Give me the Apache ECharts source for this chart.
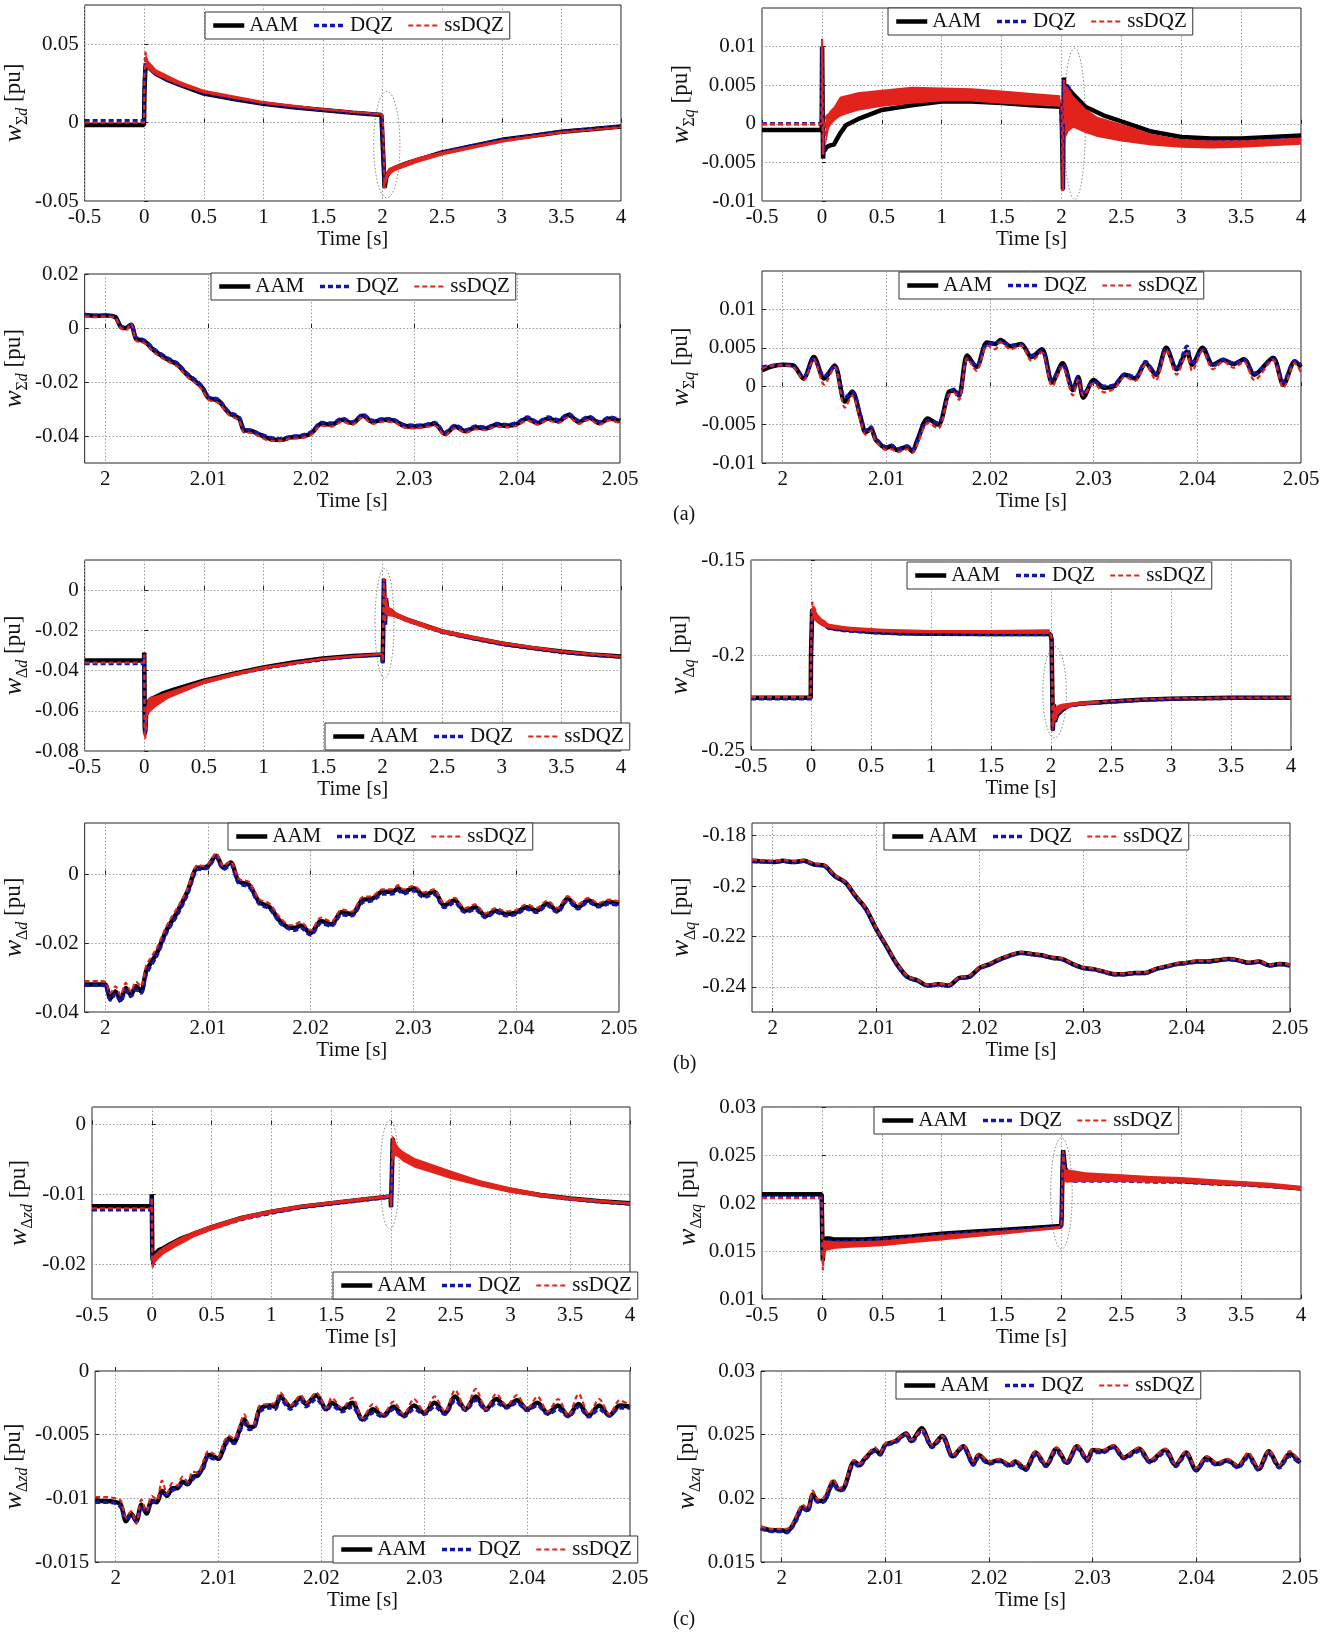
<!DOCTYPE html>
<html>
<head>
<meta charset="utf-8">
<script src="https://cdn.jsdelivr.net/npm/echarts@6/dist/echarts.min.js"></script>
<style>
html,body{margin:0;padding:0;background:#fff;}
#c{width:1334px;height:1634px;}
</style>
</head>
<body>
<div id="c"></div>
<script>
// ---------------- tick labels ----------------
const xTicksLong = [-0.5, 0, 0.5, 1, 1.5, 2, 2.5, 3, 3.5, 4];
const xTicksZoom = [2, 2.01, 2.02, 2.03, 2.04, 2.05];
const yTicksA1 = [-0.05, 0, 0.05];
const yTicksA2 = [-0.01, -0.005, 0, 0.005, 0.01];
const yTicksA3 = [-0.04, -0.02, 0, 0.02];
const yTicksA4 = [-0.01, -0.005, 0, 0.005, 0.01];
const yTicksB1 = [-0.08, -0.06, -0.04, -0.02, 0];
const yTicksB2 = [-0.25, -0.2, -0.15];
const yTicksB3 = [-0.04, -0.02, 0];
const yTicksB4 = [-0.24, -0.22, -0.2, -0.18];
const yTicksC1 = [-0.02, -0.01, 0];
const yTicksC2 = [0.01, 0.015, 0.02, 0.025, 0.03];
const yTicksC3 = [-0.015, -0.01, -0.005, 0];
const yTicksC4 = [0.015, 0.02, 0.025, 0.03];
const seriesNames = ['AAM', 'DQZ', 'ssDQZ'];
const captions = ['(a)', '(b)', '(c)'];

// ---------------- (a) w_Σd, long ----------------
const a1T   = [-0.5,-0.002,0.002,0.01,0.02,0.04,0.07,0.1,0.2,0.3, 0.5,0.75,1.0,1.25,1.5,1.75,1.99,2.001,2.017,2.03, 2.06,2.1,2.2,2.35,2.5,2.75,3.0,3.25,3.5,3.75, 4.0];
const a1AAM = [-0.0015,-0.0015,0.02,0.036,0.037,0.035,0.033,0.031,0.027,0.024, 0.0185,0.015,0.012,0.0098,0.008,0.0063,0.0048,0.004,-0.0415,-0.035, -0.031,-0.029,-0.026,-0.0225,-0.019,-0.015,-0.011,-0.0085,-0.0058,-0.0042, -0.0025];
const a1DQZ = [0.0012,0.0012,0.025,0.041,0.038,0.035,0.033,0.031,0.027,0.0242, 0.0188,0.0152,0.0122,0.0099,0.0081,0.0064,0.0049,0.0042,-0.041,-0.0345, -0.0305,-0.0288,-0.0258,-0.0223,-0.0189,-0.0148,-0.0109,-0.0083,-0.0057,-0.004, -0.0024];
const a1SS  = [0,0,0.03,0.045,0.04,0.037,0.035,0.0325,0.028,0.025, 0.02,0.016,0.013,0.0105,0.0086,0.0068,0.0053,0.0038,-0.042,-0.036, -0.032,-0.03,-0.027,-0.0235,-0.02,-0.0158,-0.012,-0.0093,-0.0065,-0.0047, -0.003];
const a1BandT  = [0.01,0.03,0.1,0.3,0.5,1.0,1.5,1.99,null,2.005,2.02,2.05,2.1,2.3,2.5,3.0,3.5,4.0];
const a1BandLo = [0.036,0.034,0.03,0.0235,0.0185,0.0118,0.0078,0.0048,null,-0.043,-0.04,-0.034,-0.031,-0.0255,-0.021,-0.0128,-0.0068,-0.0035];
const a1BandHi = [0.046,0.04,0.034,0.0265,0.021,0.0138,0.0092,0.0058,null,-0.038,-0.034,-0.029,-0.0275,-0.022,-0.0185,-0.0108,-0.0055,-0.0025];
const a1Ellipse = [2.035, -0.014, 0.11, 0.034];

// ---------------- (a) w_Σq, long ----------------
const a2T   = [-0.5,-0.002,0.002,0.006,0.01,0.015,0.02,0.04,0.07,0.1, 0.15,0.2,0.3,0.5,0.75,1.0,1.25,1.5,1.75,1.99, 2.0,2.006,2.0125,2.016,2.021,2.03,2.04,2.06,2.1,2.2, 2.35,2.5,2.75,3.0,3.25,3.5,3.75,4.0];
const a2AAM = [-0.0008,-0.0008,0.01,0.002,-0.0045,-0.003,-0.0035,-0.003,-0.0028,-0.0027, -0.0013,-0.0002,0.0006,0.0018,0.0024,0.0029,0.0029,0.0027,0.0024,0.0022, 0.0028,-0.002,-0.0085,-0.0008,0.006,0.0008,0.005,0.0045,0.0038,0.0022, 0.0011,0.0003,-0.001,-0.0017,-0.0019,-0.0019,-0.0017,-0.0015];
const a2DQZ = [0,0,0.01,0.002,-0.004,-0.002,-0.001,0,0.001,0.0015, 0.002,0.0025,0.003,0.0032,0.0035,0.0037,0.0036,0.0034,0.0032,0.0029, 0.0028,-0.0015,-0.0086,-0.001,0.0058,0.0006,0.0048,0.0048,0.0025,0.001, 0,-0.0008,-0.0016,-0.0022,-0.0023,-0.0023,-0.0021,-0.002];
const a2SS  = [0,0,0.011,0.003,-0.004,-0.001,0,0.001,0.0015,0.002, 0.0022,0.0026,0.003,0.0033,0.0036,0.0038,0.0037,0.0035,0.0032,0.003, 0.0027,-0.0028,-0.0087,-0.0012,0.0057,0,0.0046,0.0046,0.0022,0.0008, -0.0002,-0.001,-0.0018,-0.0022,-0.0023,-0.0022,-0.0021,-0.002];
const a2BandT  = [0.03,0.06,0.1,0.15,0.2,0.3,0.5,0.75,1.0,1.25,1.5,1.75,1.99,null,2.03,2.06,2.1,2.2,2.3,2.5,2.75,3.0,3.25,3.5,3.75,4.0];
const a2BandLo = [-0.003,-0.0005,0.0003,0.0009,0.0012,0.0017,0.0022,0.0026,0.0029,0.0029,0.0026,0.0024,0.0022,null,-0.002,-0.001,-0.0005,-0.0012,-0.0017,-0.0023,-0.0028,-0.0031,-0.0032,-0.0031,-0.0029,-0.0027];
const a2BandHi = [0.001,0.0015,0.0022,0.0035,0.0037,0.0041,0.0044,0.0048,0.0047,0.0046,0.0043,0.004,0.0037,null,0.005,0.0045,0.0036,0.002,0.0009,0.0,-0.0013,-0.002,-0.0022,-0.0022,-0.002,-0.0018];
const a2Ellipse = [2.11, 0, 0.09, 0.0098];

// ---------------- (a) w_Σd, zoom ----------------
const a3T   = [1.998,1.999,2.0,2.001,2.0015,2.002,2.0025,2.003,2.0035,2.004, 2.0045,2.005,2.006,2.007,2.0075,2.008,2.009,2.0095,2.01,2.011, 2.012,2.013,2.0135,2.014,2.015,2.016,2.017,2.018,2.019,2.02, 2.021,2.022,2.023,2.024,2.025,2.026,2.027,2.028,2.029,2.03, 2.031,2.032,2.033,2.034,2.035,2.036,2.037,2.038,2.039,2.04, 2.041,2.042,2.043,2.044,2.045,2.046,2.047,2.048,2.049,2.05];
const a3AAM = [0.0048,0.0045,0.0046,0.004,0.0005,0,0.0012,-0.004,-0.0045,-0.0055, -0.0075,-0.009,-0.0115,-0.0135,-0.0155,-0.0175,-0.0205,-0.0225,-0.0258,-0.027, -0.0315,-0.0335,-0.038,-0.038,-0.0395,-0.041,-0.0415,-0.0405,-0.0402,-0.039, -0.0355,-0.0358,-0.034,-0.0352,-0.0325,-0.0348,-0.034,-0.0342,-0.0362,-0.0365, -0.0362,-0.0355,-0.0392,-0.0365,-0.0382,-0.0368,-0.0372,-0.0358,-0.0362,-0.0355, -0.0335,-0.0352,-0.0335,-0.0345,-0.0322,-0.0348,-0.0332,-0.0352,-0.0335,-0.0345];
const a3DQZ = [0.0049,0.0046,0.0047,0.0038,0.0004,0.0003,0.0012,-0.0035,-0.004,-0.005, -0.007,-0.0085,-0.011,-0.013,-0.015,-0.017,-0.02,-0.022,-0.0255,-0.0265, -0.031,-0.033,-0.0375,-0.0378,-0.0392,-0.0405,-0.041,-0.0402,-0.0398,-0.0385, -0.035,-0.0352,-0.0335,-0.0348,-0.032,-0.0343,-0.0336,-0.0338,-0.0358,-0.036, -0.0358,-0.035,-0.0386,-0.036,-0.0378,-0.0363,-0.0368,-0.0354,-0.0358,-0.035, -0.033,-0.0348,-0.033,-0.034,-0.0318,-0.0343,-0.0328,-0.0347,-0.033,-0.034];
const a3SS  = [0.0043,0.004,0.0042,0.0035,0,-0.0008,0.0015,-0.0048,-0.0052,-0.0062, -0.0082,-0.0098,-0.0122,-0.0142,-0.0162,-0.0182,-0.0212,-0.0232,-0.0265,-0.0278, -0.0322,-0.0342,-0.0388,-0.0388,-0.0402,-0.0418,-0.0418,-0.041,-0.0408,-0.0396, -0.0362,-0.0365,-0.0347,-0.0358,-0.0332,-0.0355,-0.0347,-0.0349,-0.0368,-0.0372, -0.0368,-0.0362,-0.0398,-0.0372,-0.0388,-0.0375,-0.0378,-0.0365,-0.0368,-0.0362, -0.0342,-0.0358,-0.0342,-0.0352,-0.033,-0.0355,-0.0339,-0.0358,-0.0342,-0.0352];

// ---------------- (a) w_Σq, zoom ----------------
const a4T   = [1.998,1.999,2.0,2.001,2.002,2.003,2.004,2.005,2.006,2.0067, 2.0075,2.008,2.0085,2.009,2.01,2.0105,2.011,2.012,2.0125,2.013, 2.014,2.015,2.016,2.0165,2.017,2.0178,2.0187,2.0197,2.0205,2.021, 2.022,2.023,2.024,2.025,2.026,2.027,2.028,2.0285,2.029,2.03, 2.031,2.032,2.033,2.034,2.035,2.036,2.037,2.038,2.039,2.0395, 2.0405,2.0415,2.0425,2.0435,2.0445,2.0455,2.0473,2.0483,2.0494,2.05];
const a4AAM = [0.0021,0.0026,0.0028,0.0027,0.001,0.0038,0.001,0.0027,-0.002,-0.0007, -0.004,-0.006,-0.0055,-0.007,-0.008,-0.0078,-0.0083,-0.0079,-0.0085,-0.007, -0.0042,-0.005,-0.0008,-0.0006,-0.0012,0.004,0.0025,0.0057,0.0055,0.006, 0.0052,0.0055,0.0038,0.0048,0.0005,0.003,-0.0005,0.0012,-0.0015,0.0008, -0.0002,0,0.0015,0.001,0.003,0.0015,0.005,0.0022,0.0045,0.0028, 0.005,0.0028,0.0034,0.0029,0.0035,0.0015,0.0037,0.0002,0.0032,0.0025];
const a4DQZ = [0.0025,0.0027,0.0028,0.0026,0.0012,0.0035,0.0013,0.0026,-0.0015,-0.0008, -0.0038,-0.0058,-0.0053,-0.0068,-0.0079,-0.0077,-0.0082,-0.0078,-0.0083,-0.0072, -0.0045,-0.0048,-0.001,-0.0004,-0.0012,0.0036,0.0027,0.0055,0.0056,0.0058, 0.0053,0.0054,0.004,0.0046,0.0008,0.0028,-0.0002,0.0012,-0.001,0.0006, 0,0.0002,0.0016,0.0012,0.0032,0.0016,0.0048,0.0024,0.0052,0.0028, 0.0048,0.0026,0.0035,0.003,0.0034,0.0017,0.0035,0.0006,0.0033,0.0028];
const a4SS  = [0.0023,0.0027,0.0027,0.0025,0.0008,0.0035,0.0002,0.0025,-0.0028,-0.0012, -0.0045,-0.0063,-0.0058,-0.0072,-0.0083,-0.0082,-0.0086,-0.0082,-0.0087,-0.0075, -0.0048,-0.0055,-0.0012,-0.0008,-0.0018,0.0036,0.002,0.0053,0.0048,0.0057, 0.0048,0.0053,0.0033,0.0044,0,0.0025,-0.0012,0.0008,-0.0012,0.0004, -0.0008,-0.0003,0.0012,0.0007,0.0028,0.0008,0.0047,0.0015,0.0043,0.002, 0.0046,0.0022,0.0032,0.0024,0.0032,0.0008,0.0034,-0.0002,0.003,0.0018];

// ---------------- (b) w_Δd, long ----------------
const b1T   = [-0.5,-0.002,0,0.004,0.008,0.015,0.03,0.06,0.1,0.15, 0.25,0.5,0.75,1.0,1.25,1.5,1.75,1.998,2.001,2.011, 2.02,2.028,2.04,2.07,2.1,2.2,2.35,2.5,2.75,3.0, 3.25,3.5,3.75,4.0];
const b1AAM = [-0.035,-0.035,-0.031,-0.068,-0.071,-0.062,-0.056,-0.054,-0.053,-0.0515, -0.0495,-0.045,-0.0415,-0.0385,-0.036,-0.034,-0.0327,-0.032,-0.036,0.0055, -0.017,-0.004,-0.011,-0.01,-0.012,-0.0145,-0.0175,-0.0205,-0.0237,-0.0265, -0.0287,-0.0305,-0.032,-0.033];
const b1DQZ = [-0.0365,-0.0365,-0.032,-0.069,-0.072,-0.063,-0.058,-0.056,-0.055,-0.053, -0.0505,-0.0458,-0.042,-0.039,-0.0365,-0.0345,-0.033,-0.0322,-0.0365,0.005, -0.0175,-0.0045,-0.0115,-0.0105,-0.0125,-0.015,-0.018,-0.021,-0.024,-0.027, -0.029,-0.031,-0.0322,-0.0332];
const b1SS  = [-0.036,-0.036,-0.032,-0.072,-0.074,-0.065,-0.06,-0.058,-0.056,-0.054, -0.051,-0.046,-0.042,-0.0388,-0.0362,-0.0342,-0.0328,-0.0318,-0.035,0.006, -0.016,-0.003,-0.01,-0.0095,-0.0115,-0.0145,-0.0178,-0.0208,-0.0238,-0.0266, -0.0288,-0.0306,-0.032,-0.033];
const b1BandT  = [0.01,0.03,0.06,0.1,0.2,0.3,0.5,0.75,1.0,1.5,1.99,null,2.02,2.05,2.1,2.2,2.35,2.5,3.0,3.5,4.0];
const b1BandLo = [-0.072,-0.062,-0.06,-0.058,-0.054,-0.0515,-0.0468,-0.043,-0.0395,-0.0348,-0.0322,null,-0.012,-0.013,-0.0135,-0.016,-0.019,-0.0215,-0.0272,-0.031,-0.0335];
const b1BandHi = [-0.06,-0.054,-0.053,-0.0525,-0.0505,-0.0485,-0.0445,-0.041,-0.0378,-0.0335,-0.0312,null,-0.003,-0.008,-0.0105,-0.0135,-0.0165,-0.0195,-0.0255,-0.0298,-0.0325];
const b1Ellipse = [2.016, -0.0165, 0.08, 0.0273];

// ---------------- (b) w_Δq, long ----------------
const b2T   = [-0.5,-0.002,0,0.01,0.03,0.05,0.1,0.15,0.25,0.5, 0.75,1.0,1.5,1.995,2.005,2.015,2.025,2.033,2.05,2.1, 2.15,2.25,2.5,2.75,3.0,3.5,4.0];
const b2AAM = [-0.2225,-0.2225,-0.2,-0.176,-0.178,-0.181,-0.1835,-0.1855,-0.1865,-0.1878, -0.1885,-0.1888,-0.189,-0.189,-0.192,-0.2395,-0.226,-0.235,-0.2315,-0.2285, -0.2265,-0.2255,-0.2245,-0.2235,-0.223,-0.2225,-0.2225];
const b2DQZ = [-0.223,-0.223,-0.2,-0.177,-0.1785,-0.1815,-0.184,-0.186,-0.187,-0.1882, -0.1888,-0.189,-0.1892,-0.1892,-0.1925,-0.24,-0.2262,-0.2352,-0.2318,-0.2288, -0.2268,-0.2258,-0.2248,-0.2238,-0.2232,-0.2228,-0.2228];
const b2SS  = [-0.2222,-0.2222,-0.198,-0.172,-0.1755,-0.179,-0.1818,-0.1842,-0.1855,-0.1868, -0.1875,-0.1878,-0.188,-0.1882,-0.1915,-0.2385,-0.2255,-0.2345,-0.231,-0.228, -0.2262,-0.2252,-0.2243,-0.2234,-0.2228,-0.2224,-0.2224];
const b2BandT  = [0.01,0.03,0.06,0.1,0.15,0.3,0.6,1.0,1.5,1.99,null,2.01,2.03,2.06,2.1,2.2,2.4];
const b2BandLo = [-0.18,-0.182,-0.1835,-0.185,-0.186,-0.1872,-0.1882,-0.1886,-0.1888,-0.1888,null,-0.241,-0.235,-0.231,-0.229,-0.2268,-0.2255];
const b2BandHi = [-0.172,-0.176,-0.179,-0.1815,-0.1835,-0.185,-0.1862,-0.1868,-0.1868,-0.1865,null,-0.232,-0.228,-0.2262,-0.2255,-0.2248,-0.224];
const b2Ellipse = [2.03, -0.2196, 0.098, 0.024];

// ---------------- (b) w_Δd, zoom ----------------
const b3T   = [1.998,1.9995,2.0,2.0005,2.001,2.0015,2.002,2.0025,2.003,2.0035, 2.004,2.005,2.006,2.007,2.008,2.009,2.0095,2.01,2.0108,2.0115, 2.0122,2.013,2.014,2.015,2.016,2.017,2.018,2.0185,2.019,2.02, 2.021,2.022,2.023,2.024,2.025,2.026,2.027,2.028,2.0285,2.029, 2.03,2.031,2.032,2.033,2.034,2.035,2.036,2.037,2.038,2.039, 2.04,2.041,2.042,2.043,2.044,2.045,2.046,2.047,2.048,2.049, 2.05];
const b3AAM = [-0.032,-0.032,-0.032,-0.036,-0.034,-0.0365,-0.033,-0.035,-0.0325,-0.034, -0.028,-0.023,-0.016,-0.011,-0.005,0.002,0.002,0.0025,0.0055,0.002, 0.0035,-0.002,-0.003,-0.008,-0.0095,-0.0135,-0.0155,-0.0155,-0.0148,-0.017, -0.0135,-0.0145,-0.011,-0.0115,-0.0075,-0.007,-0.005,-0.005,-0.004,-0.005, -0.004,-0.006,-0.005,-0.009,-0.0075,-0.0105,-0.0095,-0.012,-0.0105,-0.0115, -0.011,-0.0095,-0.0105,-0.0085,-0.0105,-0.007,-0.0095,-0.0075,-0.009,-0.008, -0.0085];
const b3DQZ = [-0.0322,-0.0322,-0.0323,-0.0365,-0.0348,-0.037,-0.0338,-0.0355,-0.0335,-0.0345, -0.029,-0.0238,-0.0168,-0.0118,-0.0058,0.0015,0.0016,0.002,0.005,0.0015, 0.0028,-0.0026,-0.0036,-0.0086,-0.01,-0.014,-0.016,-0.0162,-0.0155,-0.0176, -0.0142,-0.015,-0.0117,-0.012,-0.0082,-0.0076,-0.0057,-0.0056,-0.0047,-0.0056, -0.0047,-0.0066,-0.0057,-0.0096,-0.0082,-0.011,-0.0102,-0.0125,-0.011,-0.012, -0.0116,-0.01,-0.011,-0.009,-0.011,-0.0076,-0.01,-0.008,-0.0094,-0.0086, -0.009];
const b3SS  = [-0.031,-0.031,-0.0312,-0.0345,-0.0325,-0.0352,-0.0315,-0.034,-0.0312,-0.0325, -0.0265,-0.0215,-0.0148,-0.0098,-0.0042,0.0028,0.0025,0.003,0.0062,0.0025, 0.0038,-0.0012,-0.0022,-0.0072,-0.0085,-0.0125,-0.0148,-0.0145,-0.0138,-0.0163, -0.0125,-0.0137,-0.0102,-0.0108,-0.0066,-0.0063,-0.0043,-0.0043,-0.0031,-0.0043, -0.0033,-0.0052,-0.0043,-0.0083,-0.0068,-0.0098,-0.0087,-0.0113,-0.0098,-0.0107, -0.0103,-0.0087,-0.0097,-0.0076,-0.0097,-0.0063,-0.0087,-0.0068,-0.0083,-0.0073, -0.0078];

// ---------------- (b) w_Δq, zoom ----------------
const b4T   = [1.998,1.999,2.0,2.001,2.002,2.003,2.004,2.005,2.006,2.007, 2.008,2.009,2.01,2.011,2.012,2.013,2.014,2.015,2.016,2.017, 2.018,2.019,2.02,2.021,2.022,2.023,2.024,2.025,2.026,2.027, 2.028,2.029,2.03,2.031,2.032,2.033,2.034,2.035,2.036,2.037, 2.038,2.039,2.04,2.041,2.042,2.043,2.044,2.045,2.046,2.047, 2.048,2.049,2.05];
const b4AAM = [-0.19,-0.1902,-0.1905,-0.19,-0.1905,-0.19,-0.1915,-0.192,-0.196,-0.1985, -0.204,-0.209,-0.217,-0.224,-0.231,-0.236,-0.2375,-0.2395,-0.239,-0.2395, -0.2365,-0.236,-0.2325,-0.231,-0.229,-0.2275,-0.2265,-0.227,-0.2275,-0.2285, -0.229,-0.231,-0.2325,-0.233,-0.234,-0.235,-0.235,-0.2345,-0.2345,-0.233, -0.232,-0.231,-0.2305,-0.23,-0.23,-0.2295,-0.229,-0.2295,-0.2305,-0.23, -0.2315,-0.231,-0.2315];
const b4DQZ = [-0.1903,-0.1904,-0.1906,-0.1902,-0.1906,-0.1902,-0.1916,-0.1922,-0.1963,-0.1988, -0.2043,-0.2094,-0.2173,-0.2243,-0.2312,-0.2362,-0.2377,-0.2396,-0.2392,-0.2396, -0.2367,-0.2362,-0.2328,-0.2312,-0.2292,-0.2277,-0.2267,-0.2272,-0.2277,-0.2287, -0.2292,-0.2312,-0.2327,-0.2332,-0.2342,-0.2352,-0.2352,-0.2347,-0.2347,-0.2332, -0.2322,-0.2312,-0.2307,-0.2302,-0.2302,-0.2297,-0.2292,-0.2297,-0.2307,-0.2302, -0.2317,-0.2312,-0.2317];
const b4SS  = [-0.1895,-0.1898,-0.19,-0.1896,-0.19,-0.1896,-0.191,-0.1916,-0.1956,-0.1982, -0.2036,-0.2086,-0.2166,-0.2236,-0.2306,-0.2356,-0.2372,-0.2392,-0.2387,-0.2392, -0.2362,-0.2356,-0.2322,-0.2306,-0.2287,-0.2272,-0.2262,-0.2267,-0.2272,-0.2282, -0.2287,-0.2307,-0.2322,-0.2327,-0.2337,-0.2347,-0.2347,-0.2342,-0.2342,-0.2327, -0.2317,-0.2307,-0.2302,-0.2297,-0.2297,-0.2292,-0.2287,-0.2292,-0.2302,-0.2297, -0.2312,-0.2307,-0.2312];

// ---------------- (c) w_Δzd, long ----------------
const c1T   = [-0.5,-0.002,0,0.004,0.008,0.015,0.03,0.06,0.1,0.15, 0.25,0.5,0.75,1.0,1.25,1.5,1.75,1.998,2.001,2.012, 2.016,2.025,2.05,2.1,2.2,2.35,2.5,2.75,3.0,3.25, 3.5,3.75,4.0];
const c1AAM = [-0.0117,-0.0117,-0.01,-0.018,-0.0195,-0.0188,-0.0185,-0.018,-0.0177,-0.0172, -0.0163,-0.0147,-0.0134,-0.0125,-0.0118,-0.0113,-0.0108,-0.0103,-0.0118,-0.0047, -0.002,-0.0032,-0.0038,-0.0046,-0.0055,-0.0063,-0.0072,-0.0084,-0.0094,-0.0101, -0.0106,-0.011,-0.0113];
const c1DQZ = [-0.0122,-0.0122,-0.0105,-0.019,-0.02,-0.019,-0.0187,-0.0182,-0.0179,-0.0174, -0.0165,-0.0149,-0.0136,-0.0127,-0.0119,-0.0114,-0.0109,-0.0104,-0.0119,-0.0048, -0.0022,-0.0033,-0.0039,-0.0047,-0.0056,-0.0064,-0.0073,-0.0085,-0.0095,-0.0102, -0.0107,-0.0111,-0.0114];
const c1SS  = [-0.012,-0.012,-0.0105,-0.0195,-0.0205,-0.0198,-0.019,-0.0183,-0.0178,-0.0173, -0.0163,-0.0146,-0.0133,-0.0124,-0.0117,-0.0112,-0.0107,-0.0102,-0.0117,-0.0042, -0.0016,-0.0026,-0.0032,-0.0042,-0.0053,-0.0061,-0.0071,-0.0083,-0.0094,-0.0101, -0.0106,-0.011,-0.0113];
const c1BandT  = [0.01,0.03,0.06,0.1,0.2,0.35,0.5,0.75,1.0,1.25,1.5,1.75,1.99,null,2.01,2.03,2.06,2.1,2.2,2.35,2.5,2.75,3.0,3.25,3.5,3.75,4.0];
const c1BandLo = [-0.0205,-0.0198,-0.0192,-0.0186,-0.0176,-0.0162,-0.0152,-0.0138,-0.0128,-0.012,-0.0115,-0.011,-0.0105,null,-0.006,-0.0045,-0.0047,-0.0053,-0.0062,-0.007,-0.0078,-0.0089,-0.0098,-0.0104,-0.0109,-0.0112,-0.0115];
const c1BandHi = [-0.019,-0.0185,-0.018,-0.0175,-0.0165,-0.0153,-0.0144,-0.0131,-0.0122,-0.0115,-0.011,-0.0105,-0.0101,null,-0.0015,-0.0022,-0.0032,-0.0038,-0.0048,-0.0057,-0.0066,-0.008,-0.009,-0.0098,-0.0104,-0.0108,-0.0111];
const c1Ellipse = [1.99, -0.0072, 0.08, 0.0078];

// ---------------- (c) w_Δzq, long ----------------
const c2T   = [-0.5,-0.002,0,0.004,0.008,0.015,0.03,0.06,0.1,0.2, 0.35,0.5,0.75,1.0,1.25,1.5,1.75,1.998,2.002,2.008, 2.014,2.03,2.06,2.1,2.2,2.35,2.5,2.75,3.0,3.25, 3.5,3.75,4.0];
const c2AAM = [0.0209,0.0209,0.0209,0.016,0.014,0.0158,0.0163,0.0163,0.0162,0.0162, 0.0162,0.0163,0.0165,0.0168,0.017,0.0172,0.0174,0.0176,0.0186,0.0231, 0.0255,0.0236,0.023,0.0228,0.0227,0.0226,0.0225,0.0224,0.0223,0.0221, 0.022,0.0218,0.0215];
const c2DQZ = [0.0206,0.0206,0.0206,0.0163,0.0145,0.0158,0.0161,0.016,0.016,0.016, 0.0161,0.0162,0.0164,0.0167,0.0169,0.0171,0.0173,0.0175,0.0185,0.023, 0.0254,0.0232,0.0225,0.0223,0.0223,0.0223,0.0223,0.0222,0.0222,0.022, 0.0219,0.0217,0.0215];
const c2SS  = [0.0205,0.0205,0.0205,0.015,0.013,0.0148,0.0152,0.0154,0.0155,0.0156, 0.0157,0.0158,0.0161,0.0164,0.0167,0.017,0.0172,0.0175,0.0185,0.023, 0.0254,0.0233,0.0232,0.023,0.0229,0.0228,0.0227,0.0225,0.0224,0.0222, 0.022,0.0218,0.0215];
const c2BandT  = [0.01,0.03,0.1,0.2,0.5,0.75,1.0,1.25,1.5,1.75,1.99,null,2.02,2.05,2.1,2.2,2.35,2.5,2.75,3.0,3.25,3.5,3.75,4.0];
const c2BandLo = [0.0135,0.015,0.0152,0.0153,0.0155,0.0158,0.0161,0.0164,0.0167,0.017,0.0173,null,0.0222,0.0221,0.0222,0.0222,0.0222,0.0222,0.0221,0.0221,0.0219,0.0218,0.0216,0.0213];
const c2BandHi = [0.0162,0.0161,0.016,0.016,0.0161,0.0164,0.0167,0.0169,0.0171,0.0173,0.0176,null,0.0236,0.0235,0.0234,0.0232,0.0231,0.023,0.0228,0.0227,0.0225,0.0223,0.0221,0.0218];
const c2Ellipse = [2.0, 0.021, 0.09, 0.0058];

// ---------------- (c) w_Δzd, zoom ----------------
const c3T   = [1.998,1.999,2.0,2.0005,2.001,2.0015,2.002,2.0025,2.003,2.0035, 2.004,2.0045,2.005,2.0055,2.006,2.0065,2.007,2.0075,2.008,2.0085, 2.009,2.0095,2.01,2.0105,2.011,2.0115,2.012,2.0125,2.013,2.0135, 2.014,2.015,2.0155,2.016,2.017,2.018,2.0185,2.0195,2.0205,2.021, 2.022,2.023,2.024,2.025,2.026,2.027,2.028,2.029,2.03,2.031, 2.032,2.033,2.034,2.035,2.036,2.037,2.038,2.039,2.04,2.041, 2.042,2.043,2.044,2.045,2.046,2.047,2.048,2.049,2.05];
const c3AAM = [-0.0102,-0.0102,-0.0103,-0.0105,-0.0118,-0.0112,-0.0118,-0.0105,-0.0112,-0.0102, -0.0103,-0.0094,-0.0098,-0.0092,-0.0092,-0.0087,-0.0089,-0.0083,-0.0082,-0.0075, -0.0066,-0.0067,-0.0069,-0.006,-0.0053,-0.0056,-0.0047,-0.0038,-0.0044,-0.0043, -0.003,-0.0027,-0.0028,-0.002,-0.0028,-0.0021,-0.0026,-0.0019,-0.003,-0.0025, -0.003,-0.0025,-0.0038,-0.003,-0.0035,-0.0028,-0.0035,-0.0027,-0.0033,-0.0025, -0.0033,-0.002,-0.003,-0.002,-0.003,-0.0022,-0.0028,-0.0023,-0.003,-0.0025, -0.0033,-0.0027,-0.0035,-0.0026,-0.0035,-0.0027,-0.0035,-0.0027,-0.0028];
const c3DQZ = [-0.0103,-0.0103,-0.0104,-0.0107,-0.0116,-0.0114,-0.0117,-0.0108,-0.011,-0.0104, -0.0101,-0.0097,-0.0097,-0.0094,-0.0091,-0.0089,-0.0088,-0.0085,-0.008,-0.0077, -0.0067,-0.0069,-0.0068,-0.0062,-0.0055,-0.0057,-0.0049,-0.0041,-0.0046,-0.0044, -0.0032,-0.0029,-0.003,-0.0022,-0.003,-0.0023,-0.0028,-0.0022,-0.0031,-0.0027, -0.0032,-0.0028,-0.0039,-0.0033,-0.0036,-0.003,-0.0036,-0.003,-0.0034,-0.0028, -0.0034,-0.0023,-0.0031,-0.0023,-0.0031,-0.0025,-0.0029,-0.0025,-0.0031,-0.0027, -0.0034,-0.003,-0.0036,-0.0028,-0.0036,-0.003,-0.0035,-0.0029,-0.0029];
const c3SS  = [-0.0099,-0.0099,-0.01,-0.0102,-0.0115,-0.011,-0.012,-0.0101,-0.011,-0.0098, -0.0101,-0.0086,-0.0096,-0.0088,-0.009,-0.0083,-0.0087,-0.0079,-0.008,-0.0071, -0.0063,-0.0065,-0.0067,-0.0056,-0.0051,-0.0053,-0.0044,-0.0034,-0.0042,-0.0041, -0.0027,-0.0026,-0.0025,-0.0017,-0.0027,-0.0019,-0.0025,-0.0017,-0.0029,-0.0021, -0.0029,-0.0021,-0.0037,-0.0026,-0.0034,-0.0024,-0.0034,-0.0022,-0.0032,-0.002, -0.0032,-0.0015,-0.003,-0.0014,-0.003,-0.0018,-0.0027,-0.0019,-0.003,-0.002, -0.0032,-0.0022,-0.0035,-0.0018,-0.0034,-0.0022,-0.0034,-0.0023,-0.0027];

// ---------------- (c) w_Δzq, zoom ----------------
const c4T   = [1.998,1.999,2.0,2.0005,2.001,2.0015,2.002,2.0025,2.003,2.0035, 2.004,2.005,2.0055,2.006,2.007,2.0075,2.008,2.009,2.0095,2.01, 2.011,2.012,2.0125,2.0135,2.0145,2.0155,2.0165,2.0175,2.0185,2.019, 2.02,2.021,2.022,2.0225,2.0235,2.0245,2.0255,2.0265,2.0275,2.0285, 2.0295,2.03,2.031,2.032,2.033,2.0345,2.0355,2.037,2.038,2.039, 2.04,2.041,2.042,2.043,2.044,2.045,2.046,2.047,2.048,2.049, 2.05];
const c4AAM = [0.0177,0.0175,0.0175,0.0174,0.0178,0.0186,0.0193,0.0191,0.0203,0.0198, 0.0198,0.0213,0.0207,0.0208,0.0229,0.0226,0.0231,0.0238,0.0235,0.0242, 0.0245,0.0251,0.0245,0.0255,0.0241,0.0249,0.0233,0.0241,0.0227,0.0234, 0.0228,0.023,0.0226,0.0229,0.0223,0.0236,0.0226,0.0239,0.0228,0.0241, 0.023,0.0238,0.0237,0.0241,0.0232,0.0239,0.0229,0.0238,0.0226,0.0236, 0.0222,0.0232,0.0227,0.023,0.0225,0.0234,0.0223,0.0237,0.0225,0.0235, 0.0228];
const c4DQZ = [0.0176,0.0174,0.0174,0.0173,0.0177,0.0184,0.0192,0.019,0.0201,0.0197, 0.0197,0.0211,0.0206,0.0207,0.0227,0.0225,0.023,0.0237,0.0234,0.0241, 0.0244,0.025,0.0244,0.0253,0.024,0.0247,0.0232,0.024,0.0226,0.0232, 0.0227,0.0229,0.0225,0.0227,0.0222,0.0234,0.0225,0.0237,0.0227,0.0239, 0.0229,0.0236,0.0236,0.024,0.0231,0.0237,0.0228,0.0236,0.0225,0.0234, 0.0222,0.023,0.0226,0.0229,0.0224,0.0232,0.0222,0.0235,0.0224,0.0233, 0.0227];
const c4SS  = [0.0178,0.0176,0.0176,0.0176,0.018,0.0188,0.0195,0.0192,0.0206,0.0199, 0.02,0.0215,0.0208,0.021,0.023,0.0227,0.0232,0.024,0.0236,0.0243, 0.0246,0.0251,0.0246,0.0254,0.0242,0.0249,0.0234,0.0242,0.0229,0.0235, 0.0229,0.0231,0.0227,0.023,0.0225,0.0237,0.0227,0.024,0.0229,0.0242, 0.0231,0.0239,0.0238,0.0242,0.0233,0.024,0.023,0.0239,0.0227,0.0237, 0.0224,0.0233,0.0228,0.0231,0.0226,0.0236,0.0224,0.0238,0.0226,0.0237, 0.0229];

// ---------------- layout / styling ----------------
const FONT = "'Liberation Serif','DejaVu Serif','Times New Roman',serif";
const COL = { aam: '#000000', dqz: '#1414b4', ss: '#e2231c', band: '#e2231c' };

const panels = [
  {T:a1T,A:a1AAM,D:a1DQZ,S:a1SS,band:[a1BandT,a1BandLo,a1BandHi],ell:a1Ellipse,x:[-0.5,4],xt:xTicksLong,y:[-0.05,0.075],yt:yTicksA1,sym:'Σ',sub:'d',box:[82,5,539,196],leg:[205,12],ng:46,smooth:false},
  {T:a2T,A:a2AAM,D:a2DQZ,S:a2SS,band:[a2BandT,a2BandLo,a2BandHi],ell:a2Ellipse,x:[-0.5,4],xt:xTicksLong,y:[-0.01,0.015],yt:yTicksA2,sym:'Σ',sub:'q',box:[762,8,539,193],leg:[888,8],ng:56,smooth:false},
  {T:a3T,A:a3AAM,D:a3DQZ,S:a3SS,x:[1.998,2.05],xt:xTicksZoom,y:[-0.05,0.02],yt:yTicksA3,sym:'Σ',sub:'d',box:[82,274,538,189],leg:[211,273],ng:53,smooth:0.3},
  {T:a4T,A:a4AAM,D:a4DQZ,S:a4SS,x:[1.998,2.05],xt:xTicksZoom,y:[-0.01,0.015],yt:yTicksA4,sym:'Σ',sub:'q',box:[762,271,539,192],leg:[899,272],ng:61,smooth:0.3},
  {T:b1T,A:b1AAM,D:b1DQZ,S:b1SS,band:[b1BandT,b1BandLo,b1BandHi],ell:b1Ellipse,x:[-0.5,4],xt:xTicksLong,y:[-0.08,0.015],yt:yTicksB1,sym:'Δ',sub:'d',box:[82,560,539,191],leg:[325,723],ng:46,smooth:false},
  {T:b2T,A:b2AAM,D:b2DQZ,S:b2SS,band:[b2BandT,b2BandLo,b2BandHi],ell:b2Ellipse,x:[-0.5,4],xt:xTicksLong,y:[-0.25,-0.15],yt:yTicksB2,sym:'Δ',sub:'q',box:[751,560,540,190],leg:[907,562],ng:48,smooth:false},
  {T:b3T,A:b3AAM,D:b3DQZ,S:b3SS,x:[1.998,2.05],xt:xTicksZoom,y:[-0.04,0.015],yt:yTicksB3,sym:'Δ',sub:'d',box:[82,823,537,189],leg:[228,823],ng:46,smooth:0.3},
  {T:b4T,A:b4AAM,D:b4DQZ,S:b4SS,x:[1.998,2.05],xt:xTicksZoom,y:[-0.25,-0.175],yt:yTicksB4,sym:'Δ',sub:'q',box:[752,823,538,189],leg:[884,823],ng:51,smooth:0.3},
  {T:c1T,A:c1AAM,D:c1DQZ,S:c1SS,band:[c1BandT,c1BandLo,c1BandHi],ell:c1Ellipse,x:[-0.5,4],xt:xTicksLong,y:[-0.025,0.0025],yt:yTicksC1,sym:'Δ',sub:'zd',box:[92,1107,538,192],leg:[333,1272],ng:56,smooth:false},
  {T:c2T,A:c2AAM,D:c2DQZ,S:c2SS,band:[c2BandT,c2BandLo,c2BandHi],ell:c2Ellipse,x:[-0.5,4],xt:xTicksLong,y:[0.01,0.03],yt:yTicksC2,sym:'Δ',sub:'zq',box:[762,1107,539,192],leg:[874,1107],ng:46,smooth:false},
  {T:c3T,A:c3AAM,D:c3DQZ,S:c3SS,x:[1.998,2.05],xt:xTicksZoom,y:[-0.015,0],yt:yTicksC3,sym:'Δ',sub:'zd',box:[92,1371,538,191],leg:[333,1536],ng:58,smooth:0.3},
  {T:c4T,A:c4AAM,D:c4DQZ,S:c4SS,x:[1.998,2.05],xt:xTicksZoom,y:[0.015,0.03],yt:yTicksC4,sym:'Δ',sub:'zq',box:[761,1371,539,191],leg:[896,1372],ng:45,smooth:0.3}
];
const captionPos = [[685,516],[685,1065],[685,1621]];

function pairs(t, v) { return t.map((x, i) => [x, v[i]]); }
const fmt = v => String(+(+v).toFixed(4));

const option = { animation: false, backgroundColor: '#fff', grid: [], xAxis: [], yAxis: [], series: [], legend: [], graphic: [] };

panels.forEach((p, i) => {
  option.grid.push({ left: p.box[0], top: p.box[1], width: p.box[2], height: p.box[3], show: true,
    borderColor: '#222', borderWidth: 1, backgroundColor: 'rgba(0,0,0,0)' });
  option.xAxis.push({
    type: 'value', gridIndex: i, min: p.x[0], max: p.x[1],
    name: 'Time [s]', nameLocation: 'middle', nameGap: 26,
    nameTextStyle: { fontFamily: FONT, fontSize: 21, color: '#111' },
    axisLine: { show: false },
    axisTick: { show: true, inside: true, length: 4, customValues: p.xt, lineStyle: { color: '#222' } },
    axisLabel: { customValues: p.xt, formatter: fmt, fontFamily: FONT, fontSize: 21, color: '#111', margin: 6 },
    splitLine: { show: true, lineStyle: { color: '#9a9a9a', type: [1.5, 2], width: 1 } }
  });
  option.yAxis.push({
    type: 'value', gridIndex: i, min: p.y[0], max: p.y[1],
    name: '{w|w}{g|' + p.sym + '}{s|' + p.sub + '}{u| [pu]}',
    nameLocation: 'middle', nameGap: p.ng, nameRotate: 90,
    nameTextStyle: { rich: {
      w: { fontFamily: FONT, fontStyle: 'italic', fontSize: 26, lineHeight: 34, verticalAlign: 'middle', color: '#111' },
      g: { fontFamily: FONT, fontSize: 16, lineHeight: 34, verticalAlign: 'bottom', color: '#111' },
      s: { fontFamily: FONT, fontStyle: 'italic', fontSize: 16, lineHeight: 34, verticalAlign: 'bottom', color: '#111' },
      u: { fontFamily: FONT, fontSize: 23, lineHeight: 34, verticalAlign: 'middle', color: '#111' }
    } },
    axisLine: { show: false },
    axisTick: { show: true, inside: true, length: 4, customValues: p.yt, lineStyle: { color: '#222' } },
    axisLabel: { customValues: p.yt, formatter: fmt, fontFamily: FONT, fontSize: 21, color: '#111', margin: 6 },
    splitLine: { show: true, lineStyle: { color: '#9a9a9a', type: [1.5, 2], width: 1 } }
  });

  if (p.ell) {
    const e = p.ell;
    option.series.push({
      type: 'custom', name: 'ellipse' + i, xAxisIndex: i, yAxisIndex: i, silent: true, z: 1,
      data: [[e[0], e[1]]],
      renderItem: (params, api) => {
        const c = api.coord([e[0], e[1]]);
        const s = api.size([e[2], e[3]]);
        return { type: 'ellipse', shape: { cx: c[0], cy: c[1], rx: s[0], ry: s[1] },
          style: { fill: 'none', stroke: '#8a8a8a', lineWidth: 1, lineDash: [1.5, 2] } };
      }
    });
  }
  option.series.push({ type: 'line', name: 'AAM', xAxisIndex: i, yAxisIndex: i, data: pairs(p.T, p.A),
    symbol: 'none', smooth: p.smooth, clip: true, z: 2, lineStyle: { color: COL.aam, width: 4.5 }, itemStyle: { color: COL.aam } });
  option.series.push({ type: 'line', name: 'DQZ', xAxisIndex: i, yAxisIndex: i, data: pairs(p.T, p.D),
    symbol: 'none', smooth: p.smooth, clip: true, z: 3, lineStyle: { color: COL.dqz, width: 3.5, type: [5, 3] }, itemStyle: { color: COL.dqz } });
  if (p.band) {
    const BT = p.band[0], BL = p.band[1], BH = p.band[2];
    option.series.push({
      type: 'custom', name: 'band' + i, xAxisIndex: i, yAxisIndex: i, silent: true, z: 4, clip: true,
      data: [[BT[0], BL[0]]],
      renderItem: (params, api) => {
        const children = []; let seg = [];
        const flush = () => {
          if (seg.length > 1) {
            const up = seg.map(k => api.coord([BT[k], BH[k]]));
            const lo = seg.map(k => api.coord([BT[k], BL[k]])).reverse();
            children.push({ type: 'polygon', shape: { points: up.concat(lo) }, style: { fill: COL.band } });
          }
          seg = [];
        };
        BT.forEach((t, k) => { if (t === null) flush(); else seg.push(k); });
        flush();
        return { type: 'group', children: children };
      }
    });
  }
  option.series.push({ type: 'line', name: 'ssDQZ', xAxisIndex: i, yAxisIndex: i, data: pairs(p.T, p.S),
    symbol: 'none', smooth: p.smooth, clip: true, z: 5, lineStyle: { color: COL.ss, width: 2.2, type: [5, 3] }, itemStyle: { color: COL.ss } });
  // AAM drawn again on top where it rides above the red band (a2 after the step)
  if (i === 1) {
    option.series.push({ type: 'line', name: 'AAM', xAxisIndex: i, yAxisIndex: i, data: pairs(p.T.slice(29), p.A.slice(29)),
      symbol: 'none', clip: true, z: 6, lineStyle: { color: COL.aam, width: 3 }, itemStyle: { color: COL.aam } });
  }

  option.legend.push({
    left: p.leg[0], top: p.leg[1], orient: 'horizontal', data: seriesNames,
    itemWidth: 31, itemHeight: 14, itemGap: 14, padding: [3, 6],
    borderColor: '#333', borderWidth: 1, borderRadius: 0, backgroundColor: '#fff',
    selectedMode: false, z: 20,
    textStyle: { fontFamily: FONT, fontSize: 21, color: '#111' },
    lineStyle: { width: 'inherit' },
    itemStyle: { opacity: 0 }
  });
});

captions.forEach((c, k) => {
  option.graphic.push({ type: 'text', left: captionPos[k][0] - 12, top: captionPos[k][1] - 11, z: 30,
    style: { text: c, font: '20px ' + FONT, fill: '#111' } });
});

const chart = echarts.init(document.getElementById('c'), null, { renderer: 'canvas' });
chart.setOption(option);
</script>
</body>
</html>
